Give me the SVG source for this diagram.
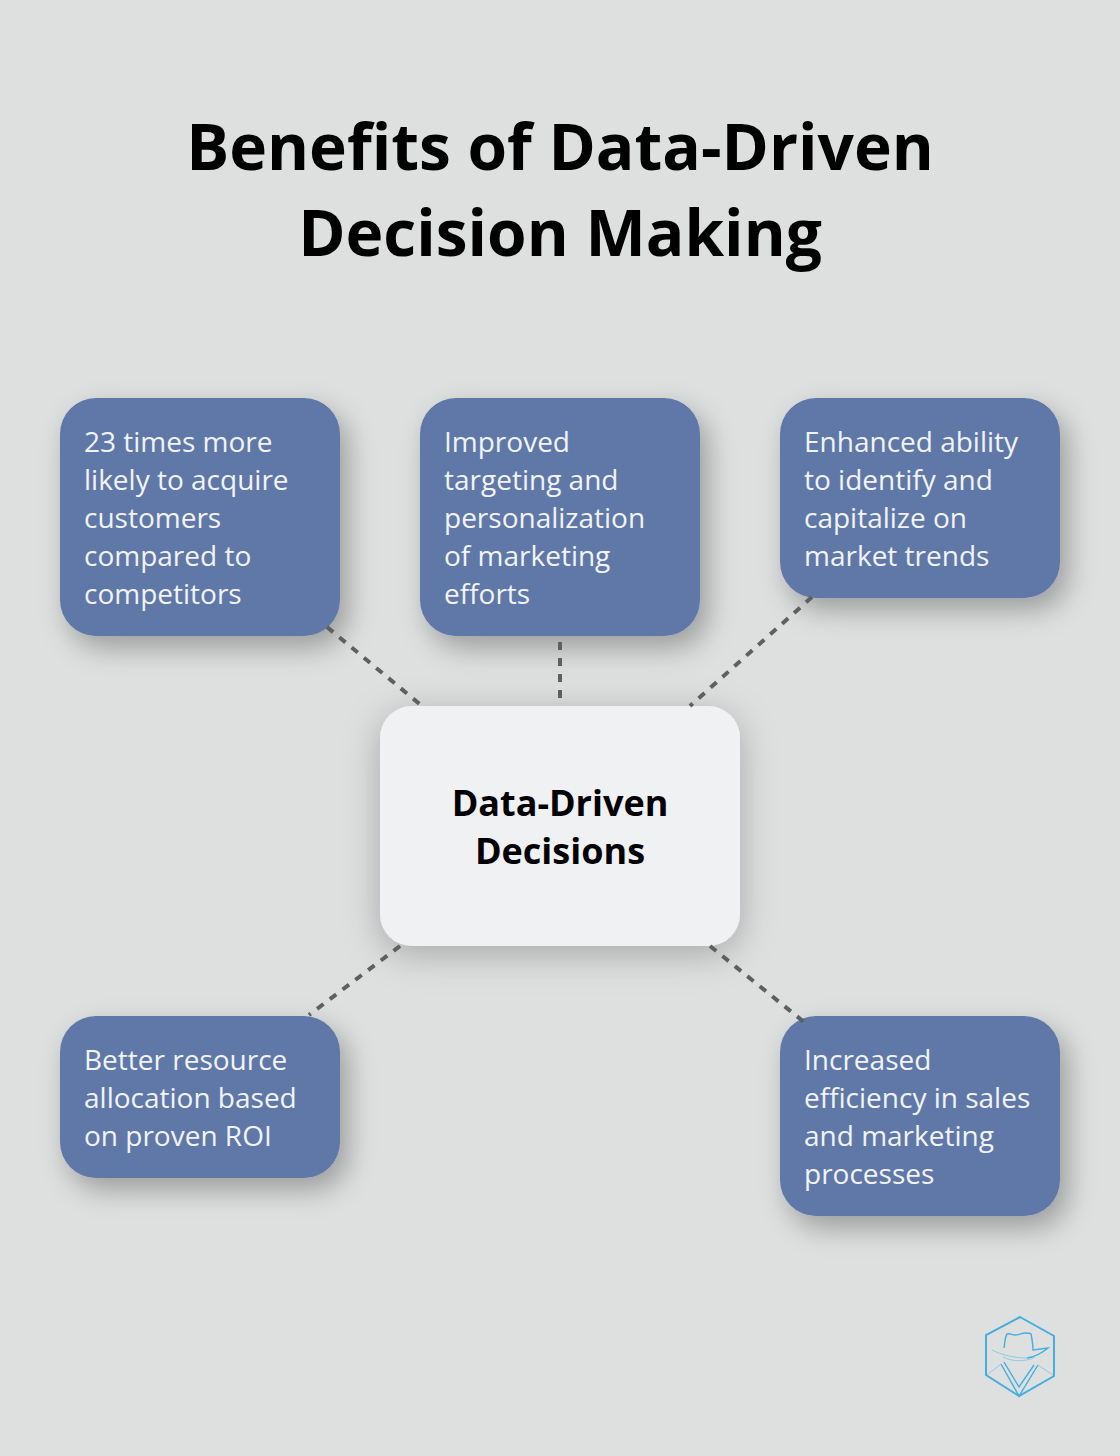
<svg xmlns="http://www.w3.org/2000/svg" width="1120" height="1456" viewBox="0 0 1120 1456">
<style>
.t{font-family:"Open Sans","Noto Sans",sans-serif;font-size:28px;fill:#f1f3f5}
.h{font-family:"Open Sans","Noto Sans",sans-serif;font-weight:700;fill:#000;text-anchor:middle}
.b{fill:#5e78a8;filter:url(#s)}
.c{stroke:#5f5f5f;stroke-width:4;stroke-dasharray:8 8;fill:none}
.l{fill:none;stroke:#45aede;stroke-width:2}
.m{fill:none;stroke:#45aede;stroke-width:1.4}
.f{fill:none;stroke:#8ccbe8;stroke-width:1}
</style>
<defs><filter id="s" x="-30%" y="-30%" width="170%" height="170%"><feDropShadow dx="8" dy="12" stdDeviation="14" flood-color="#000" flood-opacity="0.3"/></filter>
<filter id="s2" x="-30%" y="-30%" width="170%" height="170%"><feDropShadow dx="0" dy="8" stdDeviation="18" flood-color="#000" flood-opacity="0.25"/></filter></defs>
<rect width="1120" height="1456" fill="#dee0df"/>
<g id="title"><text class="h" font-size="64" x="560" y="170">Benefits of Data-Driven</text><text class="h" font-size="64" x="560" y="256">Decision Making</text></g>
<g id="n1"><rect class="b" x="60" y="398" width="280" height="238" rx="36"/><text class="t"><tspan x="84" y="452">23 times more</tspan><tspan x="84" y="490">likely to acquire</tspan><tspan x="84" y="528">customers</tspan><tspan x="84" y="566">compared to</tspan><tspan x="84" y="604">competitors</tspan></text></g>
<g id="n2"><rect class="b" x="420" y="398" width="280" height="238" rx="36"/><text class="t"><tspan x="444" y="452">Improved</tspan><tspan x="444" y="490">targeting and</tspan><tspan x="444" y="528">personalization</tspan><tspan x="444" y="566">of marketing</tspan><tspan x="444" y="604">efforts</tspan></text></g>
<g id="n3"><rect class="b" x="780" y="398" width="280" height="200" rx="36"/><text class="t"><tspan x="804" y="452">Enhanced ability</tspan><tspan x="804" y="490">to identify and</tspan><tspan x="804" y="528">capitalize on</tspan><tspan x="804" y="566">market trends</tspan></text></g>
<g id="n4"><rect class="b" x="60" y="1016" width="280" height="162" rx="36"/><text class="t"><tspan x="84" y="1070">Better resource</tspan><tspan x="84" y="1108">allocation based</tspan><tspan x="84" y="1146">on proven ROI</tspan></text></g>
<g id="n5"><rect class="b" x="780" y="1016" width="280" height="200" rx="36"/><text class="t"><tspan x="804" y="1070">Increased</tspan><tspan x="804" y="1108">efficiency in sales</tspan><tspan x="804" y="1146">and marketing</tspan><tspan x="804" y="1184">processes</tspan></text></g>
<g id="center"><rect x="380" y="706" width="360" height="240" rx="32" fill="#f0f1f3" filter="url(#s2)"/><text class="h" font-size="36"><tspan x="560" y="816">Data-Driven</tspan><tspan x="560" y="864">Decisions</tspan></text></g>
<g id="connectors"><path class="c" d="M327 627L422 706M560 642V700M812 597L690 706M400 946L309 1015M710 946L804 1022"/></g>
<g id="logo"><path class="l" d="M1020 1317L1054 1336V1376L1019 1396L986 1375V1335Z"/><path class="m" d="M1004 1348C1005 1342 1005 1337 1007 1334C1010 1333 1012 1335 1015 1335C1019 1335 1022 1333 1025 1333C1028 1333 1030 1333 1031 1334C1032 1339 1033 1345 1033 1350L1048 1348C1042 1353 1035 1357 1027 1358M1004 1362L1019 1387L1034 1365M1001 1364L1019 1396L1038 1365"/><path class="f" d="M992 1350C1002 1355 1014 1358 1027 1358M1003 1357C1012 1362 1026 1362 1035 1357M987 1375L1001 1364M1038 1365L1053 1375"/></g>
</svg>
